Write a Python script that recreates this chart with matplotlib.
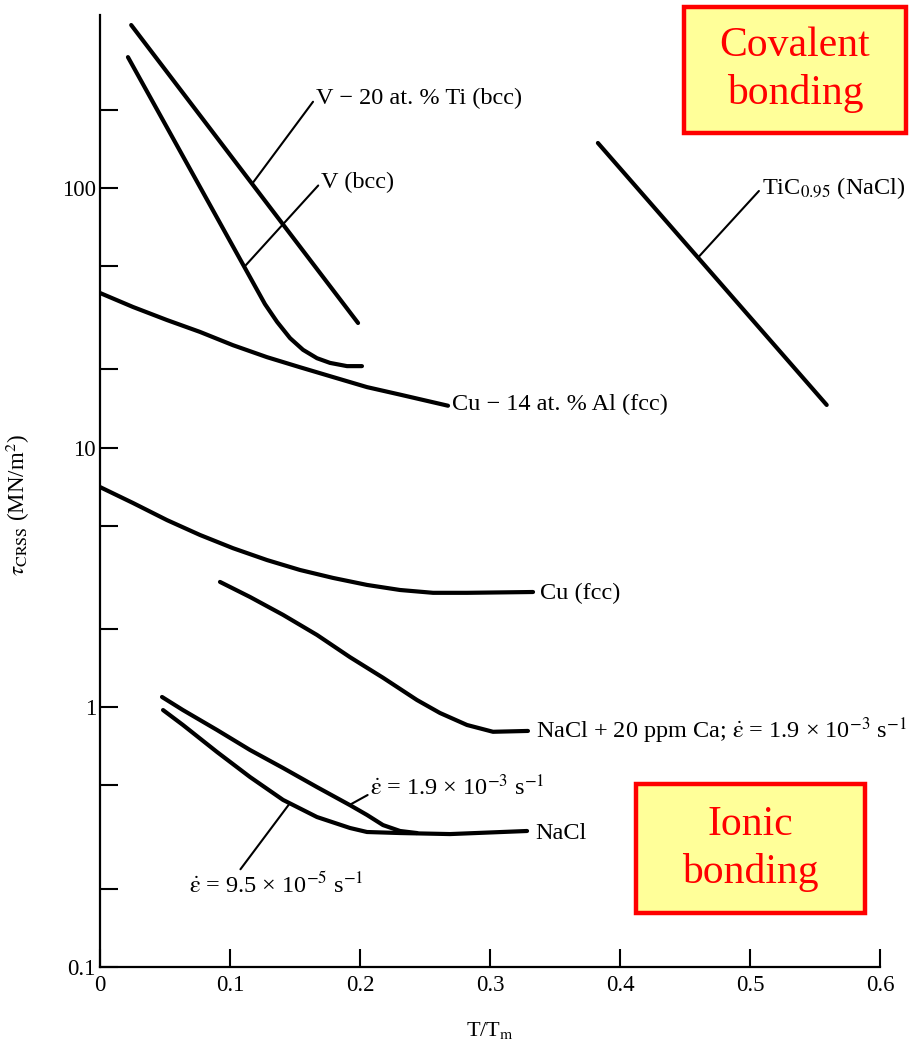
import numpy as np
import matplotlib
matplotlib.use("Agg")
import matplotlib.pyplot as plt
from matplotlib.patches import Rectangle
from matplotlib.ticker import LogLocator, FixedFormatter, FixedLocator

# ---- data (T/Tm, tau_CRSS in MN/m^2) ----
v20ti_x = [0.024, 0.1985]
v20ti_y = [424, 30.2]

v_x = [0.0215, 0.1269, 0.1362, 0.1462, 0.1562, 0.1669, 0.1769, 0.190, 0.2015]
v_y = [319, 35.7, 30.5, 26.4, 23.8, 22.1, 21.2, 20.6, 20.6]

cual_x = [0.0, 0.0254, 0.0515, 0.0769, 0.1023, 0.1285, 0.1538, 0.1792, 0.2054, 0.2308, 0.2677]
cual_y = [39.4, 34.8, 31.0, 27.9, 24.8, 22.3, 20.4, 18.7, 17.1, 16.0, 14.5]

cu_x = [0.0, 0.0254, 0.0515, 0.0769, 0.1023, 0.1285, 0.1538, 0.1792, 0.2054, 0.2308,
        0.2562, 0.2823, 0.3331]
cu_y = [7.05, 6.12, 5.26, 4.61, 4.10, 3.69, 3.38, 3.15, 2.96, 2.83, 2.76, 2.76, 2.78]

naclca_x = [0.0923, 0.1154, 0.1408, 0.1669, 0.1923, 0.2177, 0.2438, 0.2615, 0.2823,
            0.3023, 0.3292]
naclca_y = [3.04, 2.66, 2.27, 1.90, 1.56, 1.30, 1.067, 0.951, 0.855, 0.805, 0.811]

# NaCl, strain rate 1.9e-3 /s
naclfast_x = [0.0477, 0.0638, 0.090, 0.1154, 0.1408, 0.1669, 0.1923, 0.2054, 0.2177,
              0.2308, 0.2438]
naclfast_y = [1.096, 0.976, 0.818, 0.685, 0.584, 0.493, 0.420, 0.385, 0.352, 0.334, 0.328]

# NaCl, strain rate 9.5e-5 /s
naclslow_x = [0.0485, 0.0638, 0.090, 0.1154, 0.1408, 0.1669, 0.1923, 0.2054, 0.2308,
              0.2692, 0.3285]
naclslow_y = [0.976, 0.855, 0.673, 0.539, 0.440, 0.378, 0.343, 0.331, 0.328, 0.325, 0.334]

tic_x = [0.383, 0.559]
tic_y = [149, 14.6]

xticks = [0, 0.1, 0.2, 0.3, 0.4, 0.5, 0.6]
xticklabels = ['0', '0.1', '0.2', '0.3', '0.4', '0.5', '0.6']
yticks = [0.1, 1, 10, 100]
yticklabels = ['0.1', '1', '10', '100']

plt.rcParams.update({'font.family': 'Liberation Serif', 'mathtext.fontset': 'stix'})

W, H = 909, 1045
fig = plt.figure(figsize=(W / 100, H / 100), dpi=100)
ax = fig.add_axes([100 / W, (H - 967) / H, 780 / W, 952 / H])

lw = 3.0
for xs, ys in [(v20ti_x, v20ti_y), (v_x, v_y), (cual_x, cual_y), (cu_x, cu_y),
               (naclca_x, naclca_y), (naclfast_x, naclfast_y),
               (naclslow_x, naclslow_y), (tic_x, tic_y)]:
    ax.plot(xs, ys, color='black', lw=lw, solid_capstyle='round', solid_joinstyle='round')

ax.set_yscale('log')
ax.set_xlim(0, 0.6)
ax.set_ylim(0.1, 10 ** 2.666)

ax.xaxis.set_major_locator(FixedLocator(xticks))
ax.xaxis.set_major_formatter(FixedFormatter(xticklabels))
ax.yaxis.set_major_locator(FixedLocator(yticks))
ax.yaxis.set_major_formatter(FixedFormatter(yticklabels))
ax.yaxis.set_minor_locator(LogLocator(base=10, subs=(2.0, 5.0)))
ax.yaxis.set_minor_formatter(plt.NullFormatter())

for s in ['top', 'right']:
    ax.spines[s].set_visible(False)
for s in ['left', 'bottom']:
    ax.spines[s].set_linewidth(1.6)

ax.tick_params(which='both', direction='in', length=13, width=1.5, labelsize=16.5)
ax.tick_params(axis='x', pad=6)
ax.tick_params(axis='y', pad=3)

ax.set_xlabel('T/T$_{\\rm m}$', fontsize=16, labelpad=17)
ax.set_ylabel('$\\tau_{\\rm CRSS}$ (MN/m$^2$)', fontsize=16.5)
ax.yaxis.set_label_coords(-0.087, 0.485)


def on_curve(xs, ys, x):
    return np.exp(np.interp(x, xs, np.log(ys)))


lead = dict(arrowstyle='-', lw=1.5, color='black', shrinkA=0, shrinkB=0)
fs = 17.5
edot = '$\\dot{\\mathrm{\\varepsilon}}$'

ax.annotate('V − 20 at. % Ti (bcc)', xy=(0.117, on_curve(v20ti_x, v20ti_y, 0.117)),
            xytext=(0.166, 222), ha='left', va='center', fontsize=fs,
            arrowprops=dict(lead, relpos=(0, 0.5)))
ax.annotate('V (bcc)', xy=(0.111, on_curve(v_x, v_y, 0.111)),
            xytext=(0.170, 105), ha='left', va='center', fontsize=fs,
            arrowprops=dict(lead, relpos=(0, 0.5)))
ax.annotate('TiC$_{0.95}$ (NaCl)', xy=(0.46, on_curve(tic_x, tic_y, 0.46)),
            xytext=(0.509, 100), ha='left', va='center', fontsize=fs,
            arrowprops=dict(lead, relpos=(0, 0.5)))
ax.annotate(edot + ' = 1.9 × 10$^{-3}$ s$^{-1}$',
            xy=(0.192, on_curve(naclfast_x, naclfast_y, 0.192)),
            xytext=(0.208, 0.493), ha='left', va='center', fontsize=fs,
            arrowprops=dict(lead, relpos=(0, 0.25)))
ax.annotate(edot + ' = 9.5 × 10$^{-5}$ s$^{-1}$',
            xy=(0.146, on_curve(naclslow_x, naclslow_y, 0.146)),
            xytext=(0.136, 0.207), ha='center', va='center', fontsize=fs,
            arrowprops=dict(lead, relpos=(0.28, 1.0)))

ax.text(0.271, 14.6, 'Cu − 14 at. % Al (fcc)', ha='left', va='center', fontsize=fs)
ax.text(0.3385, 2.75, 'Cu (fcc)', ha='left', va='center', fontsize=fs)
ax.text(0.335, 0.81, 'NaCl + 20 ppm Ca; ' + edot + ' = 1.9 × 10$^{-3}$ s$^{-1}$',
        ha='left', va='center', fontsize=fs, clip_on=False)
ax.text(0.335, 0.328, 'NaCl', ha='left', va='center', fontsize=fs)

# highlighted boxes (pixel layout -> figure fraction)
def box(x0, y0, x1, y1, label):
    fig.add_artist(Rectangle((x0 / W, 1 - y1 / H), (x1 - x0) / W, (y1 - y0) / H,
                             transform=fig.transFigure, facecolor='#ffff99',
                             edgecolor='#ff0000', lw=3.2, zorder=5))
    fig.text((x0 + x1) / 2 / W, 1 - (y0 + y1) / 2 / H, label, color='#ff0000',
             fontsize=30, ha='center', va='center', linespacing=1.3, zorder=6)

box(684, 7, 906, 133, 'Covalent\nbonding')
box(636, 784, 865, 913, 'Ionic\nbonding')

fig.savefig('out.png', dpi=100)
